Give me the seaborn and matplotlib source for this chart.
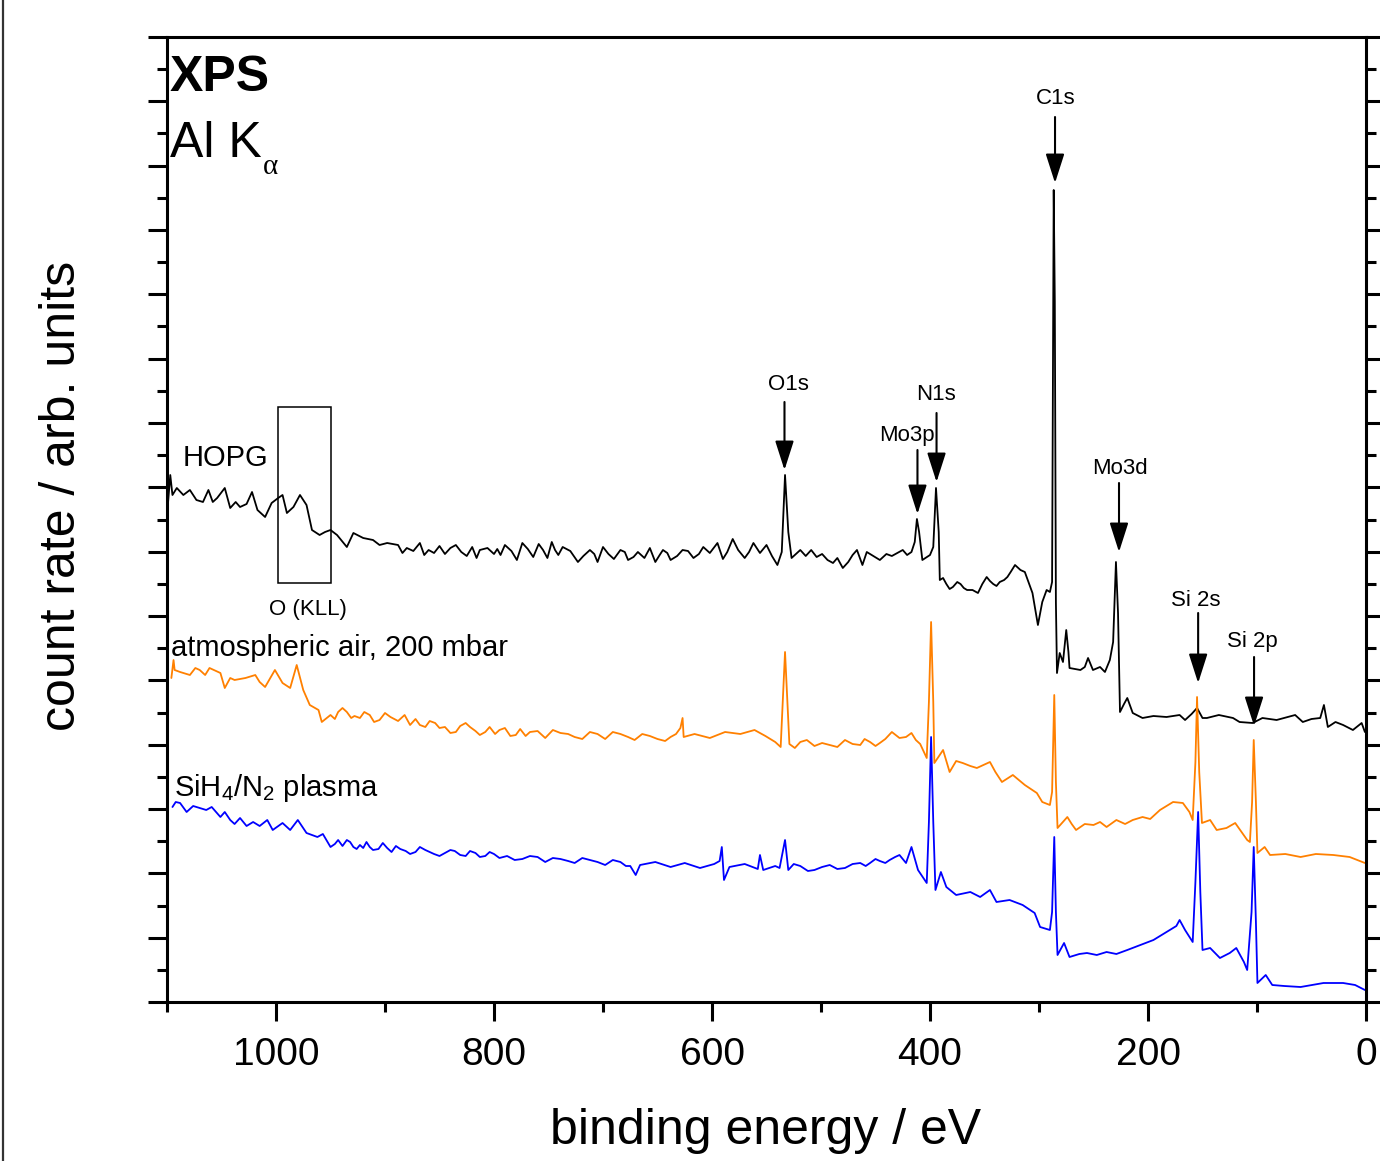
import numpy as np
import pandas as pd
import matplotlib
matplotlib.use('Agg')
import matplotlib.pyplot as plt
import seaborn as sns
from matplotlib.patches import Rectangle
from matplotlib.lines import Line2D
from matplotlib.ticker import MultipleLocator

# --- data (binding energy in eV, counts in arb. units)
hopg_ev = [1099, 1097, 1095, 1091, 1085, 1079, 1073, 1067, 1062, 1058,
           1054, 1047, 1042, 1037, 1033, 1027, 1022, 1017, 1010, 1004,
           998, 994, 990, 984, 978, 972, 967, 960, 955, 950,
           944, 935, 929, 920, 911, 905, 898, 888, 880, 868,
           860, 850, 840, 830, 820, 813, 800, 794, 790, 779,
           774, 764, 755, 747, 741, 737, 723, 712, 705, 695,
           684, 677, 668, 657, 652, 645, 638, 627, 617, 608,
           595, 586, 581, 570, 562, 550, 540, 536, 533, 530,
           527, 519, 504, 489, 480, 467, 462, 458, 446, 435,
           425, 417, 414, 412, 410, 407, 400, 397, 394.5, 392,
           391, 385, 379, 372, 366, 356, 348, 342, 336, 329,
           322, 317, 313, 306, 301, 297, 293, 290, 288, 286.5,
           285.5, 284.5, 283.5, 281, 278, 275, 273, 272, 262, 258,
           255, 250.5, 244, 239.5, 235, 232, 229.4, 227.5, 225.7, 222,
           219, 214, 205, 195, 183, 171, 166, 160, 155, 150,
           146, 135, 122, 116, 104, 95, 82, 65, 58, 50,
           42, 38.6, 35, 28, 21, 12, 4, 1]
hopg_counts = [500, 527, 507, 514, 507, 512, 502, 500, 512, 500,
               504, 514, 494, 500, 495, 498, 510, 492, 485, 499,
               504, 507, 489, 495, 507, 497, 472, 467, 470, 472,
               467, 455, 469, 464, 462, 457, 459, 457, 454, 459,
               452, 456, 454, 450, 455, 452, 448, 447, 457, 442,
               459, 445, 452, 460, 447, 455, 440, 452, 440, 448,
               452, 442, 450, 454, 440, 452, 442, 452, 444, 455,
               459, 450, 463, 444, 459, 457, 437, 450, 527, 470,
               444, 452, 445, 439, 434, 452, 437, 450, 442, 446,
               452, 450, 460, 483, 470, 442, 447, 455, 514, 470,
               422, 418, 415, 418, 412, 409, 425, 418, 420, 425,
               437, 432, 430, 409, 377, 400, 412, 410, 420, 812,
               700, 400, 329, 349, 340, 372, 350, 334, 332, 335,
               344, 332, 335, 330, 342, 360, 440, 389, 290, 298,
               304, 289, 284, 286, 285, 287, 282, 288, 294, 284,
               284, 287, 284, 280, 279, 284, 282, 287, 280, 283,
               284, 297, 275, 280, 277, 272, 279, 270]
# finer wiggles of the noisy background
hopg_ev_fine = [884, 874, 864, 855, 845, 835, 825, 816, 806, 797,
                784, 769, 759, 751, 744, 730, 718, 708, 700, 690,
                680, 672, 662, 648, 641, 632, 622, 612, 602, 590,
                576, 566, 556, 545, 523, 514, 509, 499, 494, 485,
                475, 471, 452, 440, 430, 421, 388, 382, 375, 369,
                361, 352, 345, 339, 332, 326]
hopg_counts_fine = [449, 451, 447, 449, 448, 457, 446, 444, 454, 453,
                    451, 453, 458, 444, 452, 451, 446, 448, 455, 443,
                    450, 445, 444, 447, 449, 446, 451, 448, 449, 443,
                    452, 450, 449, 446, 448, 446, 452, 448, 442, 444,
                    440, 447, 446, 448, 449, 447, 424, 413, 420, 414,
                    412, 418, 421, 416, 422, 430]

air_ev = [1096, 1094, 1093, 1088, 1079, 1074, 1070, 1065, 1061, 1051,
          1047, 1042, 1038, 1028, 1019, 1015, 1010, 1001, 994, 987,
          981, 975, 969, 961, 958, 950, 943, 935, 928, 923,
          914, 905, 895, 882, 877, 868, 859, 850, 840, 831,
          822, 813, 804, 795, 785, 776, 767, 753, 739, 726,
          712, 698, 684, 671, 657, 643, 633, 629, 627, 626,
          616, 602, 588, 574, 561, 551, 542, 537, 533, 529,
          519, 506, 492, 478, 464, 455, 446, 435, 428, 417,
          409, 403, 401, 399, 397, 396, 388, 382, 376, 370,
          363, 357, 345, 340, 334, 324, 313, 302, 297, 290,
          288, 286, 284.5, 283, 274, 270, 266, 258, 250, 244,
          238, 229, 221, 214, 205, 198, 189, 177, 168, 162,
          159, 156.5, 155, 153, 150.5, 143, 137, 128, 120, 109,
          106.5, 104.5, 103, 101, 99.6, 93, 88, 74, 60, 46,
          30, 15, 1]
air_counts = [324, 342, 332, 330, 327, 334, 332, 327, 334, 329,
              314, 324, 322, 324, 327, 320, 315, 332, 319, 314,
              337, 312, 297, 292, 280, 287, 290, 290, 286, 284,
              287, 282, 285, 287, 277, 277, 281, 274, 269, 276,
              275, 267, 275, 272, 266, 273, 270, 264, 269, 265,
              270, 263, 268, 262, 266, 261, 268, 274, 284, 265,
              268, 264, 270, 268, 272, 266, 260, 255, 350, 258,
              260, 256, 257, 262, 257, 260, 259, 270, 264, 269,
              258, 244, 300, 380, 300, 239, 252, 230, 241, 239,
              236, 234, 240, 230, 220, 227, 217, 209, 200, 197,
              210, 307, 220, 174, 185, 178, 172, 178, 177, 180,
              175, 182, 178, 182, 185, 183, 192, 200, 199, 190,
              182, 240, 305, 230, 179, 182, 172, 174, 179, 162,
              160, 200, 262, 200, 149, 155, 147, 148, 145, 148,
              147, 145, 139]
air_ev_fine = [946, 939, 931, 919, 910, 900, 888, 872, 863, 854,
               845, 835, 826, 817, 808, 799, 790, 780, 771, 760,
               746, 732, 719, 705, 691, 677, 664, 650, 638, 524,
               513, 499, 485, 471, 460, 450, 441, 422, 413]
air_counts_fine = [283, 294, 284, 290, 280, 289, 281, 283, 275, 279,
                   275, 270, 279, 271, 270, 268, 274, 267, 266, 271,
                   272, 268, 263, 268, 270, 265, 268, 263, 265, 254,
                   262, 259, 255, 258, 263, 256, 263, 265, 262]

plasma_ev = [1095, 1092, 1088, 1082, 1076, 1070, 1064, 1059, 1051, 1047,
             1042, 1038, 1033, 1027, 1021, 1015, 1008, 1003, 994, 987,
             980, 972, 962, 957, 950, 943, 935, 929, 923, 917,
             911, 902, 894, 886, 877, 868, 859, 850, 840, 831,
             822, 813, 804, 795, 781, 767, 753, 739, 726, 712,
             698, 684, 675, 670, 666, 652, 638, 625, 611, 598,
             593, 591, 589, 584, 570, 558, 556, 553, 542, 538,
             533, 530, 519, 506, 492, 478, 464, 455, 446, 437,
             428, 422, 417, 411, 403, 401, 399, 397, 395, 390,
             385, 376, 363, 354, 345, 339, 327, 315, 304, 299,
             290, 288, 286, 284.5, 283, 277, 272, 263, 256, 247,
             238, 229, 219, 207, 195, 183, 174, 171, 166, 159,
             156.5, 154, 152, 150, 143, 134, 125, 119, 112, 109,
             105, 103, 101, 99.6, 92, 86, 75, 60, 39, 21,
             10, 1]
plasma_counts = [195, 200, 199, 190, 196, 194, 192, 195, 185, 190,
                 182, 178, 184, 176, 180, 176, 182, 172, 179, 172,
                 182, 169, 165, 168, 155, 162, 162, 155, 157, 160,
                 152, 159, 150, 153, 148, 155, 150, 146, 152, 147,
                 151, 145, 150, 144, 142, 146, 140, 143, 139, 142,
                 137, 140, 136, 127, 137, 140, 135, 139, 134, 138,
                 141, 155, 122, 135, 138, 133, 147, 132, 136, 134,
                 162, 132, 136, 132, 137, 134, 139, 139, 141, 142,
                 147, 139, 155, 132, 119, 180, 265, 180, 112, 130,
                 115, 107, 110, 105, 112, 100, 102, 97, 89, 75,
                 72, 90, 165, 90, 47, 59, 45, 48, 49, 47,
                 50, 48, 52, 57, 62, 70, 76, 82, 72, 60,
                 120, 190, 110, 52, 54, 44, 49, 54, 40, 32,
                 90, 155, 80, 19, 27, 17, 16, 15, 19, 19,
                 17, 12]
plasma_ev_fine = [946, 939, 932, 926, 920, 914, 906, 898, 890, 881,
                  872, 863, 855, 845, 836, 826, 817, 808, 800, 788,
                  774, 760, 746, 732, 719, 705, 691, 679, 525, 512,
                  499, 485, 471, 459, 450, 441, 432]
plasma_counts_fine = [158, 156, 160, 153, 154, 155, 153, 154, 156, 151,
                      150, 152, 148, 149, 151, 146, 149, 146, 148, 146,
                      143, 145, 144, 141, 144, 140, 142, 136, 138, 131,
                      135, 133, 138, 136, 143, 139, 145]

samples = ['HOPG', 'atmospheric air, 200 mbar', 'SiH4/N2 plasma']
colors = ['black', '#ff8000', '#0000ff']

x_ticks = [0, 200, 400, 600, 800, 1000]

# peak markers: name, energy, label height, arrow tail, arrow tip
peaks = [('O1s', 533.5, 620, 600, 532),
         ('N1s', 394, 610, 589, 520),
         ('Mo3p', 411.5, 568, 552, 488),
         ('C1s', 285.3, 905, 885, 819),
         ('Mo3d', 226.6, 535, 519, 450),
         ('Si 2s', 154, 404, 389, 319),
         ('Si 2p', 102.7, 362, 345, 276)]
label_x = {'Mo3p': 421.1, 'O1s': 530.3, 'C1s': 284.4, 'Si 2s': 156,
           'Si 2p': 104.6, 'Mo3d': 225.7, 'N1s': 394.5}

df = pd.concat([
    pd.DataFrame({'energy': hopg_ev + hopg_ev_fine,
                  'counts': hopg_counts + hopg_counts_fine, 'sample': samples[0]}),
    pd.DataFrame({'energy': air_ev + air_ev_fine,
                  'counts': air_counts + air_counts_fine, 'sample': samples[1]}),
    pd.DataFrame({'energy': plasma_ev + plasma_ev_fine,
                  'counts': plasma_counts + plasma_counts_fine, 'sample': samples[2]}),
], ignore_index=True)

sns.set_style('ticks')
plt.rcParams['font.family'] = ['Liberation Sans', 'DejaVu Sans']
plt.rcParams['mathtext.fontset'] = 'custom'
plt.rcParams['mathtext.rm'] = 'Liberation Sans'
plt.rcParams['mathtext.it'] = 'Liberation Sans:italic'
plt.rcParams['mathtext.bf'] = 'Liberation Sans:bold'
plt.rcParams['text.color'] = 'black'
plt.rcParams['axes.labelcolor'] = 'black'
plt.rcParams['xtick.color'] = 'black'
plt.rcParams['ytick.color'] = 'black'

fig = plt.figure(figsize=(13.8, 11.61), dpi=100)
ax = fig.add_axes([167 / 1380, 159 / 1161, 1199 / 1380, 965 / 1161])

sns.lineplot(data=df, x='energy', y='counts', hue='sample',
             palette=dict(zip(samples, colors)), estimator=None,
             legend=False, linewidth=1.3, ax=ax)

ax.set_xlim(1100, 0)
ax.set_ylim(0, 965)

for s in ax.spines.values():
    s.set_linewidth(2.2)
    s.set_color('black')

ax.set_xticks(x_ticks)
ax.xaxis.set_minor_locator(MultipleLocator(100))
ax.set_yticks(np.linspace(0, 965, 16))
ax.set_yticks(np.linspace(965 / 30, 965 - 965 / 30, 15), minor=True)
ax.tick_params(axis='x', which='both', direction='out', bottom=True, top=False,
               width=2.2, color='black', labelsize=28, labelcolor='black', pad=11)
ax.tick_params(axis='x', which='major', length=14)
ax.tick_params(axis='x', which='minor', length=7)
ax.tick_params(axis='y', which='both', direction='out', left=True, right=True,
               labelleft=False, width=2.2, color='black')
ax.tick_params(axis='y', which='major', length=14)
ax.tick_params(axis='y', which='minor', length=7)

ax.set_xlabel('binding energy / eV', fontsize=36, va='center', color='black')
ax.xaxis.set_label_coords(0.499, -0.134)
ax.set_ylabel('count rate / arb. units', fontsize=36, va='center', color='black')
ax.yaxis.set_label_coords(-0.0876, 0.524)

# header
ax.text(0.0025, 0.958, 'XPS', transform=ax.transAxes, fontsize=36,
        fontweight='bold', ha='left', va='center')
ax.text(0.0025, 0.889, 'Al K', transform=ax.transAxes, fontsize=36,
        ha='left', va='center')
ax.text(0.080, 0.865, 'α', transform=ax.transAxes, fontsize=21,
        family='Liberation Serif', ha='left', va='center')

# sample labels
ax.text(1086, 544, 'HOPG', fontsize=21, ha='left', va='center')
ax.text(1096, 354, 'atmospheric air, 200 mbar', fontsize=21, ha='left', va='center')
ax.text(1094, 214, r'SiH$_{\mathregular{4}}$/N$_{\mathregular{2}}$ plasma',
        fontsize=21, ha='left', va='center')

# O (KLL) box
ax.add_patch(Rectangle((949.5, 419), 48.5, 176, fill=False, lw=1.1, ec='black'))
ax.text(970.6, 393, 'O (KLL)', fontsize=16, ha='center', va='center')

for name, ev, ylab, tail, tip in peaks:
    ax.annotate('', xy=(ev, tip), xytext=(ev, tail),
                arrowprops=dict(arrowstyle='-|>,head_length=0.5,head_width=0.16',
                                mutation_scale=36, color='black', lw=1.5,
                                shrinkA=0, shrinkB=0))
    ax.text(label_x[name], ylab - 2, name, fontsize=16, ha='center', va='center')

# page border line on the far left
fig.add_artist(Line2D([2.5 / 1380, 2.5 / 1380], [0, 1], transform=fig.transFigure,
                      color='#333333', lw=1.6))

fig.savefig('out.png', dpi=100)
